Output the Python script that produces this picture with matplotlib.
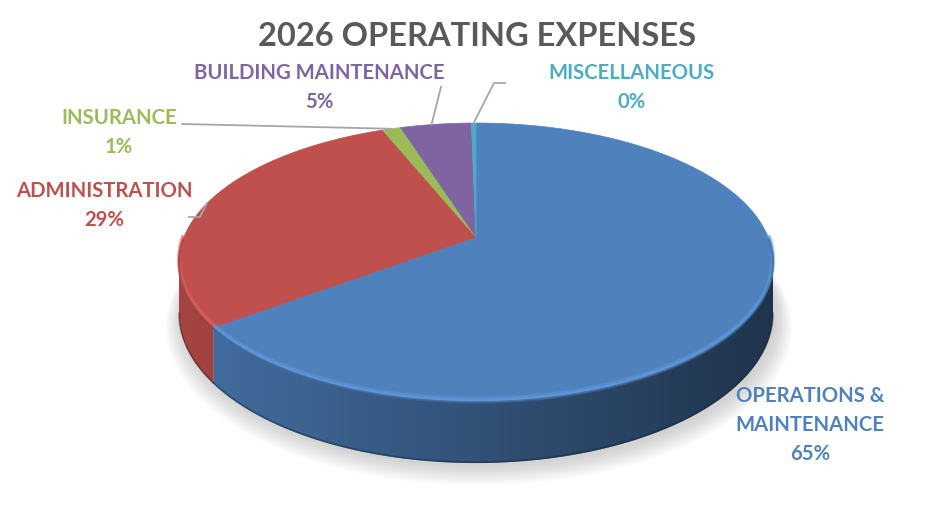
import numpy as np
import matplotlib
matplotlib.use('Agg')
import matplotlib.pyplot as plt
from matplotlib.patches import Polygon
from matplotlib.colors import to_rgb

# ---------------- data ----------------
categories = ['OPERATIONS &\nMAINTENANCE', 'ADMINISTRATION', 'INSURANCE',
              'BUILDING MAINTENANCE', 'MISCELLANEOUS']
values = [64.8, 29.1, 1.2, 4.6, 0.3]
colors = ['#4F81BD', '#C0504D', '#9BBB59', '#8064A2', '#4BACC6']
title = '2026 OPERATING EXPENSES'

# ---------------- layout ----------------
W, H = 948, 526
CX, CY = 476, 237          # apex of slices (screen px)
AX, AY, K, HZ = 292, 134.8, 0.1827, 50
label_pos = {  # center x, first-line center y
    'OPERATIONS &\nMAINTENANCE': (810, 396),
    'ADMINISTRATION': (104, 191),
    'INSURANCE': (119, 118),
    'BUILDING MAINTENANCE': (319, 73),
    'MISCELLANEOUS': (632, 73),
}
LINE = 29
FONT = 'Lato'

fig = plt.figure(figsize=(W / 100, H / 100), dpi=100)
ax = fig.add_axes([0, 0, 1, 1])
ax.set_xlim(0, W)
ax.set_ylim(H, 0)
ax.axis('off')


def proj(t, z=0.0):
    tr = np.radians(t)
    X = np.sin(tr)
    D = -np.cos(tr)
    w = 1 - K * D
    return CX + AX * X / w, CY + (AY * D + z) / w


total = float(sum(values))
bounds = np.concatenate([[0], np.cumsum(values) / total * 360.0])

# ---------------- shadow ----------------
tt = np.linspace(0, 360, 361)
bx, by = proj(tt, HZ)
for i in range(12):
    s = 1 + i * 0.005
    px = CX + (bx - CX) * s + 3
    py = (by - CY) * s + CY + 3 + i * 0.6
    ax.add_patch(Polygon(np.column_stack([px, py]), closed=True,
                         facecolor='#808080', edgecolor='none', alpha=0.03, zorder=1))

# ---------------- sides (gradient images clipped to side polygons) ----------------
t_vis0 = np.degrees(np.arccos(-K))          # right extreme
t_vis1 = 360 - t_vis0                        # left extreme
xx = np.arange(W) + 0.5
yy = np.arange(H) + 0.5
XX, YY = np.meshgrid(xx, yy)
fx = np.clip(0.86 - 0.46 * (XX - 180) / 593, 0.38, 0.9)
for i, c in enumerate(colors):
    a0, a1 = max(bounds[i], t_vis0), min(bounds[i + 1], t_vis1)
    if a1 <= a0:
        continue
    base = np.array(to_rgb(c))
    ts = np.linspace(a0, a1, 300)
    tx, ty = proj(ts)
    bx_, by_ = proj(ts[::-1], HZ)
    side = np.vstack([np.column_stack([tx, ty]), np.column_stack([bx_, by_])])
    patch = Polygon(side, closed=True, facecolor='none', edgecolor='none', zorder=2)
    ax.add_patch(patch)
    img = np.clip(fx[..., None] * base[None, None, :], 0, 1)
    im = ax.imshow(img, extent=[0, W, H, 0], origin='upper', interpolation='bilinear',
                   zorder=2, aspect='auto')
    im.set_clip_path(patch)
    # dark bottom edge
    bx2, by2 = proj(ts, HZ)
    ax.plot(bx2, by2 - 1, color=np.clip(base * 0.3, 0, 1), lw=1.2, alpha=0.45, zorder=2.5)

# ---------------- top faces ----------------
for i, c in enumerate(colors):
    ts = np.linspace(bounds[i], bounds[i + 1], max(2, int((bounds[i + 1] - bounds[i]) * 2) + 1))
    px, py = proj(ts)
    poly = np.vstack([[CX, CY], np.column_stack([px, py])])
    ax.add_patch(Polygon(poly, closed=True, facecolor=c, edgecolor=c, lw=0.5, zorder=3))

# bevel highlight along front rim
for i, c in enumerate(colors):
    a0, a1 = max(bounds[i], t_vis0 - 10), min(bounds[i + 1], t_vis1 + 10)
    if a1 <= a0:
        continue
    base = np.array(to_rgb(c))
    ts = np.linspace(a0, a1, 200)
    px, py = proj(ts)
    light = np.clip(base * 1.12 + 0.03, 0, 1)
    ax.plot(px, py - 3, color=light, lw=3.0, alpha=0.55, zorder=4, solid_capstyle='butt')
    ax.plot(px, py - 2, color=light, lw=1.5, alpha=0.8, zorder=4, solid_capstyle='butt')
    ax.plot(px, py + 0.5, color=np.clip(base * 0.8, 0, 1), lw=1.5, alpha=0.7, zorder=4,
            solid_capstyle='butt')

# ---------------- leader lines ----------------
lc = '#A6A6A6'
mid = [(bounds[i] + bounds[i + 1]) / 2 for i in range(len(values))]
mx, my = proj(mid[4])
ax.plot([mx, 494, 505], [my, 83, 83], color=lc, lw=1.3, zorder=5)
bx1, by1 = proj(mid[3] - 1.0)
ax.plot([bx1, 441], [by1, 87], color=lc, lw=1.3, zorder=5)
ix, iy = proj(mid[2])
ax.plot([182, ix], [124, iy], color=lc, lw=1.3, zorder=5)
ax.plot([189, 200, 207], [217, 217, 203], color=lc, lw=1.3, zorder=5)

# ---------------- texts ----------------
ax.text(477, 37, title, ha='center', va='center', fontsize=23.5, fontweight='bold',
        color='#595959', family=FONT, zorder=6)
for cat, v, c in zip(categories, values, colors):
    x, y = label_pos[cat]
    lines = cat.split('\n') + [f'{round(v / total * 100):.0f}%']
    for k, ln in enumerate(lines):
        ax.text(x, y + k * LINE, ln, ha='center', va='center', fontsize=14.6,
                fontweight='bold', color=c, family=FONT, zorder=6)

fig.savefig('out.png', dpi=100)
